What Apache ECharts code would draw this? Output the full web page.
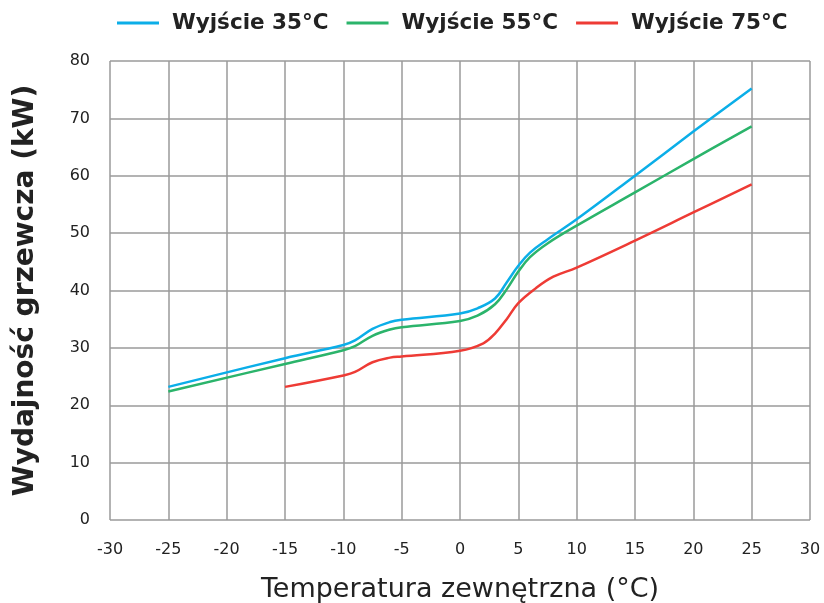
<!DOCTYPE html>
<html><head><meta charset="utf-8">
<script src="https://cdn.jsdelivr.net/npm/echarts@6/dist/echarts.min.js"></script>
<style>html,body{margin:0;padding:0;background:#fff}#c{width:824px;height:603px}</style>
</head><body><div id="c"></div>
<script>
const seriesNames = ['Wyjście 35°C', 'Wyjście 55°C', 'Wyjście 75°C'];
const x35 = [-25, -15, -10, -9, -7.5, -6, -5, 0, 1.5, 3, 4, 5, 6, 7.5, 10, 15, 20, 25];
const y35 = [23.2, 28.2, 30.5, 31.3, 33.3, 34.5, 34.9, 36.0, 36.9, 38.6, 41.4, 44.3, 46.6, 48.9, 52.4, 60.0, 67.7, 75.2];
const x55 = [-25, -15, -10, -9, -7.5, -6, -5, 0, 1.5, 3, 4, 5, 6, 7.5, 10, 15, 20, 25];
const y55 = [22.4, 27.2, 29.6, 30.3, 32.1, 33.2, 33.6, 34.7, 35.6, 37.6, 40.2, 43.3, 45.8, 48.2, 51.3, 57.1, 62.9, 68.6];
const x75 = [-15, -10, -9, -7.5, -6, -5, 0, 2, 3, 4, 5, 6.5, 8, 10, 15, 20, 25];
const y75 = [23.2, 25.2, 25.8, 27.5, 28.3, 28.5, 29.5, 30.8, 32.5, 35.0, 37.8, 40.4, 42.4, 44.0, 48.7, 53.6, 58.5];
const colors = ['#0BAEE8', '#2BB46B', '#EE3B35'];

const pair = (xs, ys) => xs.map((v, i) => [v, ys[i]]);
const chart = echarts.init(document.getElementById('c'));
const font = 'DejaVu Sans';
chart.setOption({
  animation: false,
  color: colors,
  legend: {
    left: 112, top: 7, icon: 'rect', itemWidth: 42, itemHeight: 3, itemGap: 18,
    textStyle: { fontFamily: font, fontSize: 21.5, fontWeight: 'bold', color: '#222', padding: [0, 0, 0, 8] },
    data: seriesNames
  },
  grid: { left: 110, right: 14, top: 61, bottom: 83, outerBoundsMode: 'none', containLabel: false },
  xAxis: {
    type: 'value', min: -30, max: 30, interval: 5,
    name: 'Temperatura zewnętrzna (°C)', nameLocation: 'middle', nameGap: 56,
    nameTextStyle: { fontFamily: font, fontSize: 27, color: '#222' },
    axisLine: { show: false }, axisTick: { show: false },
    axisLabel: { fontFamily: font, fontSize: 16, color: '#222', margin: 22 },
    splitLine: { show: true, lineStyle: { color: '#9a9a9a', width: 1.5 } }
  },
  yAxis: {
    type: 'value', min: 0, max: 80, interval: 10,
    name: 'Wydajność grzewcza (kW)', nameLocation: 'middle', nameGap: 70,
    nameTextStyle: { fontFamily: font, fontSize: 28, fontWeight: 'bold', color: '#222' },
    axisLine: { show: false }, axisTick: { show: false },
    axisLabel: { fontFamily: font, fontSize: 16, color: '#222', margin: 20 },
    splitLine: { show: true, lineStyle: { color: '#9a9a9a', width: 1.5 } }
  },
  series: [
    { name: seriesNames[0], type: 'line', data: pair(x35, y35), smooth: 0.4, showSymbol: false, lineStyle: { width: 2.5 } },
    { name: seriesNames[1], type: 'line', data: pair(x55, y55), smooth: 0.4, showSymbol: false, lineStyle: { width: 2.5 } },
    { name: seriesNames[2], type: 'line', data: pair(x75, y75), smooth: 0.4, showSymbol: false, lineStyle: { width: 2.5 } }
  ]
});
</script></body></html>
